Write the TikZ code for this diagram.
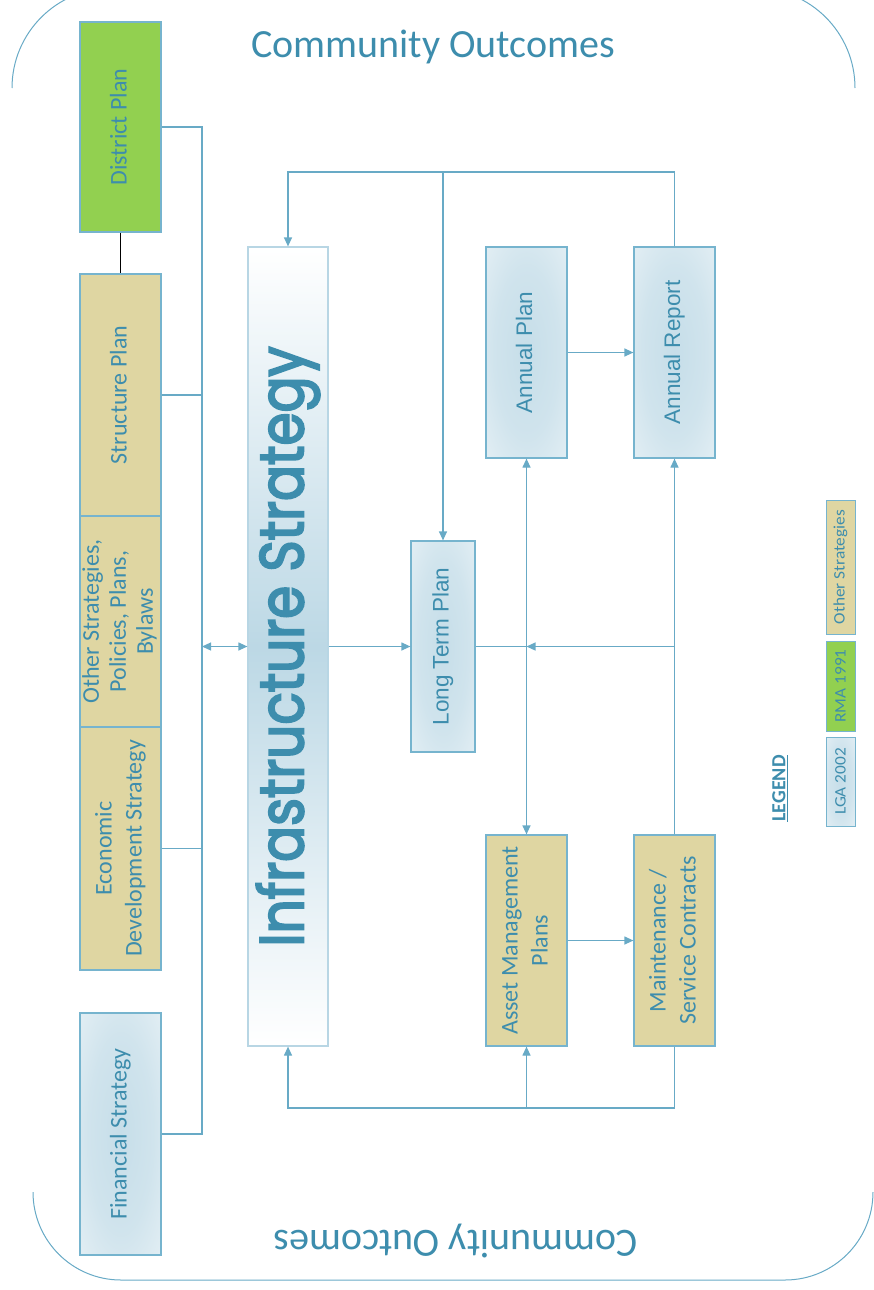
\documentclass[tikz,border=0pt]{standalone}
\usepackage{fontspec}
\setmainfont{Carlito}
\newfontfamily\arialfont{Liberation Sans}
\newfontfamily\geofont[FakeBold=3.5]{Poppins}
\usepackage{graphicx}
\usetikzlibrary{arrows.meta}

\definecolor{tealtext}{RGB}{61,141,173}
\definecolor{wirecol}{RGB}{104,170,198}
\definecolor{boxline}{RGB}{118,180,206}
\definecolor{paleline}{RGB}{184,214,228}
\definecolor{lgablue}{RGB}{188,216,229}
\definecolor{rmagreen}{RGB}{146,208,80}
\definecolor{othertan}{RGB}{223,214,162}

\pgfdeclareradialshading{boxglow}{\pgfpoint{0bp}{0bp}}{%
  color(0bp)=(lgablue!85!white); color(20bp)=(lgablue!70!white); color(48bp)=(lgablue!22!white); color(71bp)=(white)}

\newcommand{\vtext}[1]{\rotatebox{90}{\begin{tabular}{@{}c@{}}#1\end{tabular}}}
\newcommand{\keytext}[1]{\rotatebox{90}{\scalebox{1.08}[1]{#1}}}

\tikzset{
  box/.style={draw=boxline, line width=1.2pt, text=tealtext, inner sep=0pt,
    font=\fontsize{24}{30}\selectfont},
  lgabox/.style={box, shading=boxglow},
  rmabox/.style={box, fill=rmagreen},
  tanbox/.style={box, fill=othertan},
  planbox/.style={lgabox, font=\arialfont\fontsize{22.5}{28}\selectfont},
  keybox/.style={line width=1pt, minimum width=29, font=\fontsize{16}{18}\selectfont},
  wire/.style={draw=wirecol, line width=1.2pt},
}

\begin{document}
\begin{tikzpicture}[x=1pt, y=-1pt, >={Triangle[length=9pt,width=8pt]}]
\useasboundingbox (0,0) rectangle (873,1290);

% outcome frame
\draw[wirecol, line width=1pt, rounded corners=100] (12,88) -- (12,-12) -- (855,-12) -- (855,88);
\draw[wirecol, line width=1pt, rounded corners=88] (33,1192) -- (33,1280) -- (873,1280) -- (873,1192);
\node[text=tealtext, font=\fontsize{40}{42}\selectfont] (cotop) at (433,47) {Community Outcomes};
\node[text=tealtext, font=\fontsize{40}{42}\selectfont, rotate=180] (cobot) at (456,1241) {Community Outcomes};

% other documents
\node[rmabox, minimum width=81, minimum height=210] (dp) at (120.5,127) {\vtext{District Plan}};
\node[tanbox, minimum width=81, minimum height=242] (sp) at (120.5,395) {\vtext{Structure Plan}};
\node[tanbox, minimum width=81, minimum height=211, font=\fontsize{24}{27}\selectfont] (os) at (120.5,621.5)
  {\vtext{Other Strategies,\\Policies, Plans,\\Bylaws}};
\node[tanbox, minimum width=81, minimum height=243] (ed) at (120.5,848.5) {\vtext{Economic\\Development Strategy}};
\node[lgabox, minimum width=81, minimum height=242] (fs) at (120.5,1134) {\vtext{Financial Strategy}};
\draw[black, line width=1pt] (dp.south) -- (sp.north);

% infrastructure strategy
\node[box, draw=paleline, top color=white, bottom color=white, middle color=lgablue,
  minimum width=80, minimum height=799] (is) at (288,646.5)
  {\rotatebox{90}{\resizebox{600pt}{47pt}{\geofont Infrastructure Strategy}}};

% plans
\node[planbox, minimum width=64, minimum height=211] (ltp) at (443,646.5) {\vtext{Long Term Plan}};
\node[planbox, minimum width=81, minimum height=211] (ap) at (526.5,352.5) {\vtext{Annual Plan}};
\node[planbox, minimum width=81, minimum height=211] (ar) at (674.5,352.5) {\vtext{Annual Report}};
\node[tanbox, minimum width=81, minimum height=211] (am) at (526.5,940.5) {\vtext{Asset Management\\Plans}};
\node[tanbox, minimum width=81, minimum height=211] (mc) at (674.5,940.5) {\vtext{Maintenance /\\Service Contracts}};

% connectors
\coordinate (bus) at (202,646.5);
\coordinate (top) at (443,172);
\coordinate (mid) at (526.5,646.5);
\coordinate (bot) at (526.5,1108);
\draw[wire] (dp.east) -| (bus);
\draw[wire] (sp.east) -| (bus);
\draw[wire] (ed.east) -| (bus);
\draw[wire] (fs.east) -| (bus);
\draw[wire, <->] (bus) -- (is.west);
\draw[wire, ->] (is.east) -- (ltp.west);
\draw[wire, ->] (ar.north) |- (top) -| (is.north);
\draw[wire, ->] (top) -- (ltp.north);
\draw[wire, ->] (ap.east) -- (ar.west);
\draw[wire, <->] (ap.south) -- (am.north);
\draw[wire] (ltp.east) -- (mid);
\draw[wire, ->] (mc.north) |- (mid);
\draw[wire, ->] (mc.north) -- (ar.south);
\draw[wire, ->] (am.east) -- (mc.west);
\draw[wire, ->] (mc.south) |- (bot) -| (is.south);
\draw[wire, ->] (bot) -- (am.south);

% legend
\node[text=tealtext, font=\fontsize{20}{22}\selectfont\bfseries] (leg) at (780,788.5) {\rotatebox{90}{\underline{LEGEND}}};
\node[lgabox, keybox, minimum height=89] (klga) at (840.5,781.5) {\keytext{LGA 2002}};
\node[rmabox, keybox, minimum height=90] (krma) at (840.5,686) {\keytext{RMA 1991}};
\node[tanbox, keybox, minimum height=134] (koth) at (840.5,567) {\keytext{Other Strategies}};
\end{tikzpicture}
\end{document}
